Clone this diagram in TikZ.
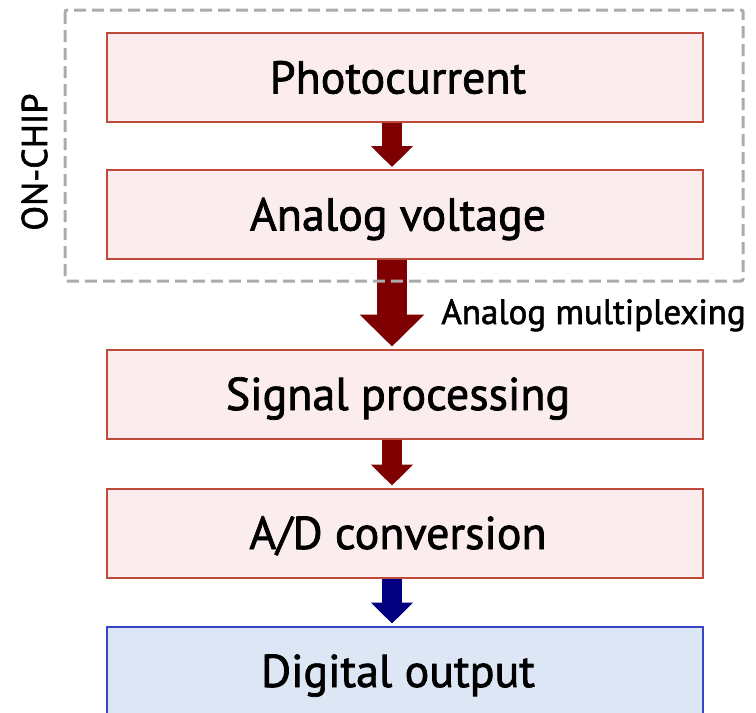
\documentclass[tikz,border=0pt]{standalone}
\usepackage{fontspec}
\setmainfont{PT Sans}[FakeBold=1.6]
\usetikzlibrary{arrows.meta}
\definecolor{boxfill}{HTML}{FBEDED}
\definecolor{boxline}{HTML}{BF4A3C}
\definecolor{flowred}{HTML}{7F0000}
\definecolor{outfill}{HTML}{DCE6F5}
\definecolor{outline}{HTML}{3A44C6}
\definecolor{flowblue}{HTML}{000080}
\definecolor{chipline}{HTML}{ABABAB}
\begin{document}
\begin{tikzpicture}[x=0.5pt, y=-0.5pt,
  stage/.style={draw=boxline, fill=boxfill, line width=1pt,
    minimum width=298pt, minimum height=44.5pt, inner sep=0pt,
    font=\fontsize{23pt}{26pt}\selectfont, text height=16pt, text depth=0pt,
    execute at end node={\hspace*{7pt}}},
  outstage/.style={stage, draw=outline, fill=outfill},
  thinflow/.style={line width=10pt, flowred,
    -{Triangle[length=10.5pt, width=20.5pt]}},
  wideflow/.style={line width=15pt, flowred,
    -{Triangle[length=16pt, width=31.5pt]}},
  digiflow/.style={thinflow, flowblue},
  chipbox/.style={draw=chipline, line width=1.5pt, dash pattern=on 6pt off 3pt,
    rounded corners=1pt},
  sidelabel/.style={font=\fontsize{17.5pt}{20pt}\selectfont, inner sep=0pt}]
  \clip (0,0) rectangle (756,713);

  % processing stages
  \node[stage] (photo) at (405,77.5) {Photocurrent};
  \node[stage] (volt) at (405,214.5) {Analog voltage};
  \node[stage] (proc) at (405,394) {Signal processing};
  \node[stage] (adc) at (405,533) {A/D conversion};
  \node[outstage] (dout) at (405,671) {Digital output};

  % arrow axis
  \coordinate (ax) at (392,0);

  % flow between stages
  \draw[thinflow] (photo.south -| ax) -- ([yshift=1pt]volt.north -| ax);
  \draw[wideflow] (volt.south -| ax) -- ([yshift=1pt]proc.north -| ax);
  \draw[thinflow] (proc.south -| ax) -- ([yshift=1pt]adc.north -| ax);
  \draw[digiflow] (adc.south -| ax) -- ([yshift=1pt]dout.north -| ax);

  \node[sidelabel, anchor=base west] (mux) at (441,324) {Analog multiplexing};

  % on-chip region
  \draw[chipbox] (65,10) rectangle (743,281);
  \node[sidelabel, font=\fontsize{18pt}{20pt}\selectfont, rotate=90] (chip) at (34.5,162) {ON-CHIP};
\end{tikzpicture}
\end{document}
